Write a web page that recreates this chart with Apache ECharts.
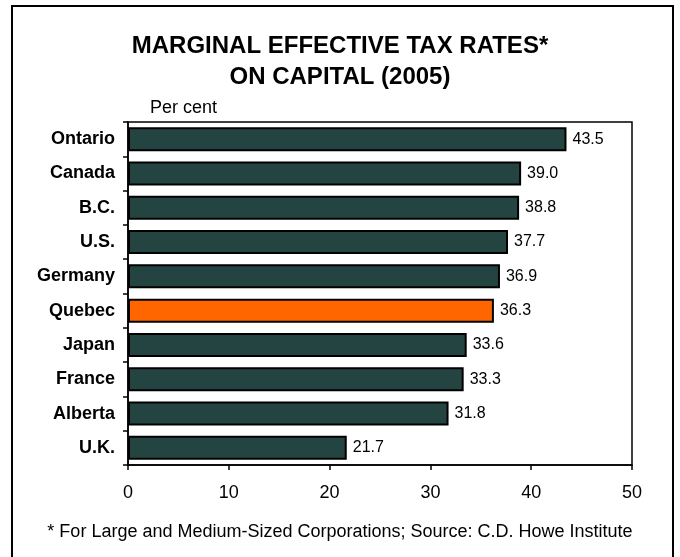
<!DOCTYPE html>
<html><head><meta charset="utf-8">
<script src="https://cdn.jsdelivr.net/npm/echarts@6/dist/echarts.min.js"></script>
<style>html,body{margin:0;padding:0;background:#fff}#c{width:680px;height:557px}</style>
</head><body><div id="c"></div>
<script>
var categories = ['Ontario','Canada','B.C.','U.S.','Germany','Quebec','Japan','France','Alberta','U.K.'];
var values = [43.5, 39.0, 38.8, 37.7, 36.9, 36.3, 33.6, 33.3, 31.8, 21.7];
var highlight = 'Quebec';
var xTicks = [0, 10, 20, 30, 40, 50];

var FONT = 'Liberation Sans, Arial, sans-serif';
var chart = echarts.init(document.getElementById('c'), null, {renderer:'canvas'});
chart.setOption({
  animation: false,
  backgroundColor: '#fff',
  title: {
    text: 'MARGINAL EFFECTIVE TAX RATES*\nON CAPITAL (2005)',
    left: 'center', top: 26,
    textStyle: {fontFamily: FONT, fontSize: 24, fontWeight: 'bold', color: '#000', lineHeight: 31}
  },
  grid: {left: 128, right: 48, top: 122, bottom: 92, show: true, borderColor: '#000', borderWidth: 1.5, backgroundColor: 'transparent'},
  xAxis: {
    type: 'value', min: xTicks[0], max: xTicks[xTicks.length-1], interval: 10,
    axisLine: {show: true, lineStyle: {color: '#000', width: 1.5}},
    axisTick: {show: true, length: 5, lineStyle: {color: '#000', width: 1.5}},
    splitLine: {show: false},
    axisLabel: {fontFamily: FONT, fontSize: 18, color: '#000', margin: 19}
  },
  yAxis: {
    type: 'category', data: categories, inverse: true,
    axisLine: {show: true, lineStyle: {color: '#000', width: 1.5}},
    axisTick: {show: true, length: 5, lineStyle: {color: '#000', width: 1.5}},
    axisLabel: {fontFamily: FONT, fontSize: 18, fontWeight: 'bold', color: '#000', margin: 13}
  },
  series: [{
    type: 'bar',
    barCategoryGap: '30%',
    data: values.map(function(v, i){
      return {value: v, itemStyle: {color: categories[i] === highlight ? '#FF6600' : '#244442'}};
    }),
    itemStyle: {borderColor: '#000', borderWidth: 2},
    label: {show: true, position: 'right', distance: 6, fontFamily: FONT, fontSize: 16, color: '#000',
      formatter: function(p){ return p.value.toFixed(1); }}
  }],
  graphic: [
    {type: 'rect', shape: {x: 12, y: 6, width: 661, height: 570}, style: {fill: 'none', stroke: '#000', lineWidth: 2}, silent: true},
    {type: 'text', left: 150, top: 99, style: {text: 'Per cent', fontFamily: FONT, fontSize: 18, fill: '#000'}},
    {type: 'text', left: 'center', top: 523, style: {text: '* For Large and Medium-Sized Corporations; Source: C.D. Howe Institute', fontFamily: FONT, fontSize: 18, fill: '#000'}}
  ]
});
</script></body></html>
